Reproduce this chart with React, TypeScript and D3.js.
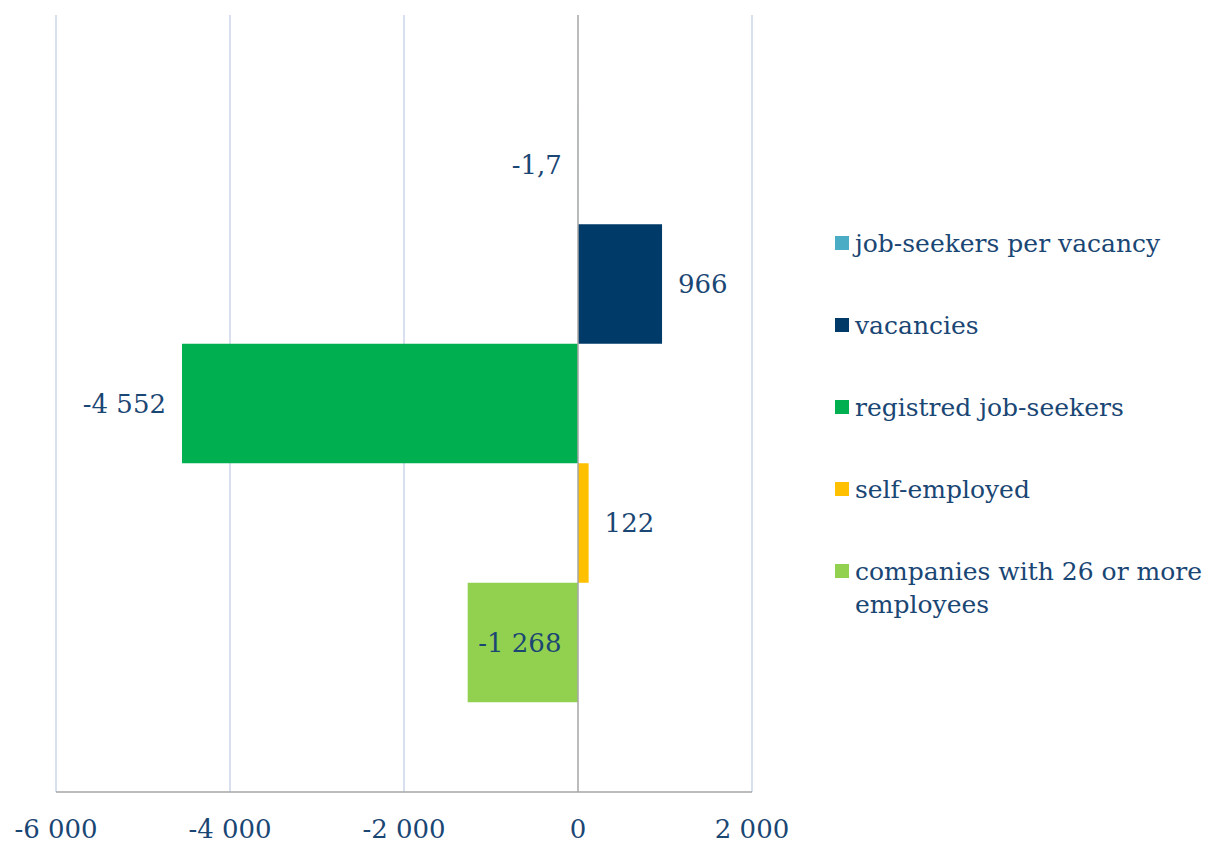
import React from "react";
import * as d3 from "d3";

const seriesNames = [
  "job-seekers per vacancy",
  "vacancies",
  "registred job-seekers",
  "self-employed",
  "companies with 26 or more employees",
];
const seriesValues = [-1.7, 966, -4552, 122, -1268];
const seriesLabels = ["-1,7", "966", "-4 552", "122", "-1 268"];
const seriesColors = ["#4BACC6", "#003A68", "#00B050", "#FFC000", "#92D050"];
const xTicks = [-6000, -4000, -2000, 0, 2000];
const xTickLabels = ["-6 000", "-4 000", "-2 000", "0", "2 000"];

const W = 1212;
const H = 843;
const TEXT = "#1A4674";
const FONT = "'DejaVu Serif', 'Liberation Serif', serif";
const NUM_SIZE = 26;
const LEG_SIZE = 25;

export default function App() {
  const x = d3.scaleLinear().domain([-6000, 2000]).range([56, 752]);
  const plotTop = 15;
  const plotBottom = 792;
  const y = d3
    .scaleBand<string>()
    .domain(seriesNames)
    .range([plotTop + 89.75, plotBottom - 89.75])
    .padding(0);

  const legendY = [243, 325, 407, 489, 571];

  return (
    <svg
      width={W}
      height={H}
      style={{ position: "absolute", left: 0, top: 0, background: "#fff" }}
      fontFamily={FONT}
    >
      {xTicks.map((t) =>
        t === 0 ? null : (
          <line
            key={"g" + t}
            x1={x(t)}
            x2={x(t)}
            y1={plotTop}
            y2={plotBottom}
            stroke="#D8DFEF"
            strokeWidth={2}
          />
        )
      )}
      {seriesNames.map((n, i) => {
        const v = seriesValues[i];
        const x0 = x(Math.min(0, v));
        const x1 = x(Math.max(0, v));
        return (
          <rect
            key={n}
            x={x0}
            y={y(n)!}
            width={Math.max(0, x1 - x0)}
            height={y.bandwidth()}
            fill={seriesColors[i]}
          />
        );
      })}
      <line x1={x(0)} x2={x(0)} y1={plotTop} y2={plotBottom} stroke="#A6A6A6" strokeWidth={1.5} />
      <line x1={x(-6000)} x2={x(2000)} y1={plotBottom} y2={plotBottom} stroke="#A6A6A6" strokeWidth={1.5} />

      {seriesNames.map((n, i) => {
        const v = seriesValues[i];
        const cy = y(n)! + y.bandwidth() / 2;
        let tx: number;
        let anchor: "start" | "end" | "middle";
        if (i === 4) {
          tx = (x(v) + x(0)) / 2 - 3;
          anchor = "middle";
        } else if (v < 0) {
          tx = x(v) - 16;
          anchor = "end";
        } else {
          tx = x(v) + 16;
          anchor = "start";
        }
        return (
          <text
            key={"l" + n}
            x={tx}
            y={cy}
            dy="0.35em"
            textAnchor={anchor}
            fontSize={NUM_SIZE}
            fill={TEXT}
          >
            {seriesLabels[i]}
          </text>
        );
      })}

      {xTicks.map((t, i) => (
        <text key={"t" + t} x={x(t)} y={829} dy="0.35em" textAnchor="middle" fontSize={NUM_SIZE} fill={TEXT}>
          {xTickLabels[i]}
        </text>
      ))}

      {seriesNames.map((n, i) => {
        const ly = legendY[i];
        const lines = i === 4 ? ["companies with 26 or more", "employees"] : [n];
        return (
          <g key={"lg" + n}>
            <rect x={835} y={ly - 7} width={14} height={14} fill={seriesColors[i]} />
            {lines.map((ln, j) => (
              <text key={j} x={855} y={ly + j * 33} dy="0.35em" fontSize={LEG_SIZE} fill={TEXT}>
                {ln}
              </text>
            ))}
          </g>
        );
      })}
    </svg>
  );
}
